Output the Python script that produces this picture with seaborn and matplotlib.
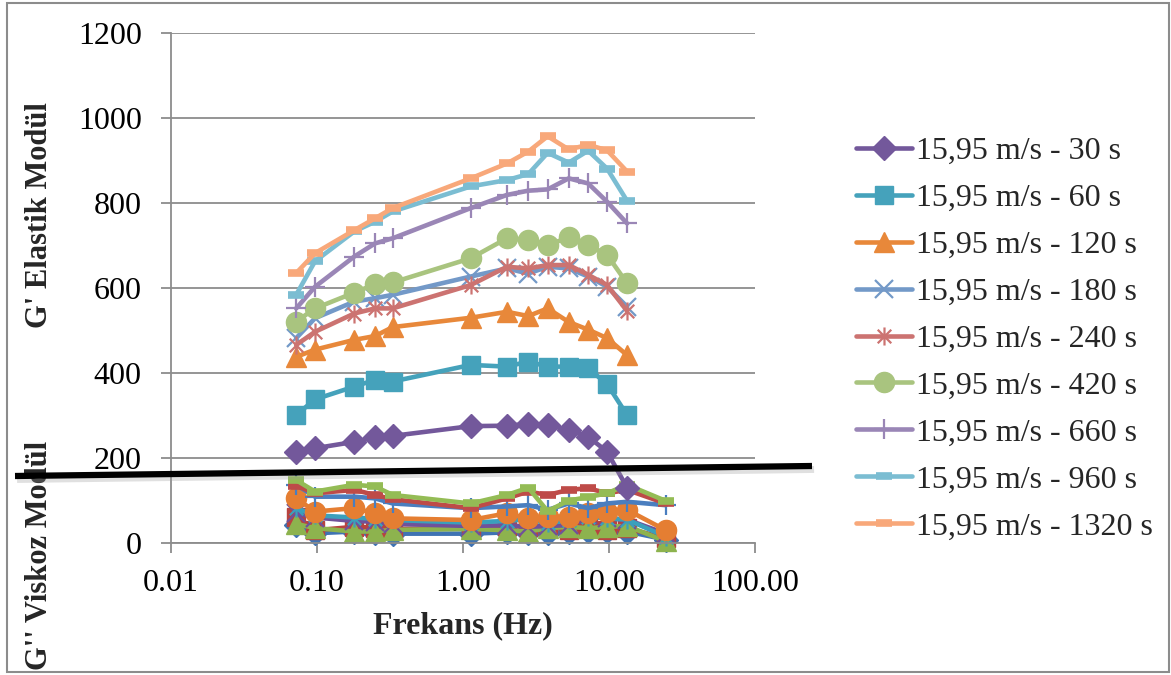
import numpy as np
import pandas as pd
import matplotlib
matplotlib.use("Agg")
import matplotlib.pyplot as plt
import seaborn as sns
from matplotlib.path import Path
from matplotlib.lines import Line2D
from matplotlib.patches import Rectangle
import matplotlib.patheffects as pe

# Frequency sweep (Hz)
freq = [0.072, 0.097, 0.18, 0.25, 0.33, 1.13, 2.0, 2.8, 3.8, 5.3, 7.2, 9.7, 13.3]
freq_visc = freq + [24.5]

# G' elastic modulus per treatment time
labels = ["15,95 m/s - 30 s", "15,95 m/s - 60 s", "15,95 m/s - 120 s",
          "15,95 m/s - 180 s", "15,95 m/s - 240 s", "15,95 m/s - 420 s",
          "15,95 m/s - 660 s", "15,95 m/s - 960 s", "15,95 m/s - 1320 s"]
g_30 = [215, 223, 238, 249, 252, 275, 276, 280, 278, 266, 250, 215, 130]
g_60 = [301, 338, 368, 384, 380, 419, 415, 427, 415, 415, 411, 374, 301]
g_120 = [438, 455, 478, 487, 508, 530, 544, 534, 552, 520, 502, 482, 442]
g_180 = [482, 529, 568, 576, 584, 627, 646, 634, 650, 646, 627, 603, 556]
g_240 = [466, 497, 540, 552, 552, 607, 650, 646, 654, 654, 631, 607, 546]
g_420 = [521, 552, 589, 609, 613, 670, 717, 714, 701, 719, 701, 678, 611]
g_660 = [552, 603, 674, 705, 717, 788, 819, 829, 832, 858, 846, 803, 752]
g_960 = [584, 663, 733, 756, 780, 839, 854, 868, 918, 895, 923, 881, 805]
g_1320 = [635, 682, 736, 764, 788, 858, 893, 921, 957, 926, 937, 924, 874]
elastic = [g_30, g_60, g_120, g_180, g_240, g_420, g_660, g_960, g_1320]

# G'' viscous modulus per treatment time
v_30 = [42, 23, 27, 23, 22, 22, 25, 23, 23, 25, 28, 28, 27, 8]
v_60 = [62, 30, 38, 36, 33, 35, 40, 38, 40, 31, 38, 31, 35, 11]
v_120 = [45, 35, 27, 27, 31, 33, 30, 27, 35, 38, 35, 38, 40, 4]
v_180 = [70, 60, 52, 50, 45, 40, 42, 38, 40, 42, 66, 58, 55, 22]
v_240 = [82, 65, 60, 57, 54, 48, 52, 56, 46, 54, 62, 58, 55, 15]
v_420 = [105, 74, 82, 70, 58, 54, 70, 58, 62, 62, 70, 74, 78, 30]
v_660 = [137, 109, 109, 105, 93, 82, 86, 89, 78, 93, 82, 93, 97, 89]
v_960 = [135, 117, 125, 113, 103, 82, 105, 121, 113, 125, 129, 117, 125, 93]
v_1320 = [148, 121, 137, 133, 113, 93, 113, 130, 75, 100, 108, 117, 137, 99]
viscous = [v_30, v_60, v_120, v_180, v_240, v_420, v_660, v_960, v_1320]

xticks = [0.01, 0.1, 1, 10, 100]
xticklabels = ["0.01", "0.10", "1.00", "10.00", "100.00"]
yticks = [0, 200, 400, 600, 800, 1000, 1200]

sns.set_theme(style="white")
plt.rcParams["font.family"] = ["Liberation Serif", "DejaVu Serif"]

# asterisk-style star: vertical bar crossed by an X
star = Path([(0, -1), (0, 1), (-0.75, -0.75), (0.75, 0.75), (-0.75, 0.75), (0.75, -0.75)],
            [Path.MOVETO, Path.LINETO] * 3)

elastic_colors = ["#73589B", "#45A2BB", "#E8883A", "#7399C8", "#CC7371",
                  "#A9C47F", "#9A86B6", "#7BBDD2", "#F8A87A"]
viscous_colors = ["#3F73B3", "#B8433F", "#8DB34E", "#70519A", "#3BA0BC",
                  "#E57E32", "#4A7EBF", "#BE4B48", "#94BC55"]
markers = ["D", "s", "^", "x", star, "o", "+", "_", "_"]
msizes = [12, 13.5, 14.5, 13, 13, 14.5, 15, 12, 12]
mews = [1, 1, 1, 1.6, 1.6, 1, 1.6, 5.5, 5.5]
filled = [True, True, True, False, False, True, False, False, False]

fig = plt.figure(figsize=(11.71, 6.75), dpi=100)
ax = fig.add_axes([171 / 1171, 132 / 675, 584 / 1171, 510 / 675])

def draw(xs, ys, color, i, label=None):
    kw = dict(marker=markers[i], markersize=msizes[i], markeredgewidth=mews[i],
              markeredgecolor=color, markerfacecolor=color if filled[i] else "none")
    sns.lineplot(x=xs, y=ys, color=color, linewidth=3.3, sort=False,
                 estimator=None, ax=ax, label=label, clip_on=False, **kw)

for i, vals in enumerate(viscous):
    draw(freq_visc, vals, viscous_colors[i], i)

handles = []
for i, vals in enumerate(elastic):
    draw(freq, vals, elastic_colors[i], i)
    handles.append(ax.lines[-1])

if ax.get_legend() is not None:
    ax.get_legend().remove()

ax.set_xscale("log")
ax.set_xlim(0.01, 100)
ax.set_ylim(0, 1200)
ax.set_xticks(xticks)
ax.set_xticklabels(xticklabels)
ax.xaxis.set_minor_locator(matplotlib.ticker.NullLocator())
ax.set_yticks(yticks)
ax.set_yticklabels([str(v) for v in yticks])

ax.grid(axis="y", color="#8C8C8C", linewidth=1.3)
ax.grid(axis="x", visible=False)
ax.set_axisbelow(True)
for side in ["top", "right"]:
    ax.spines[side].set_visible(False)
for side in ["left", "bottom"]:
    ax.spines[side].set_color("#8C8C8C")
    ax.spines[side].set_linewidth(1.3)
ax.tick_params(axis="both", which="major", direction="out", length=7, width=1.3,
               color="#8C8C8C", labelsize=23, labelcolor="black")
ax.tick_params(axis="x", pad=12, bottom=True)
ax.tick_params(axis="y", pad=14, left=True)
ax.set_xlabel("")
ax.set_ylabel("")

fig.text(463 / 1171, 1 - 626 / 675, "Frekans (Hz)", ha="center", va="center",
         fontsize=23, fontweight="bold")
fig.text(40 / 1171, 1 - 215 / 675, "G' Elastik Modül", ha="center", va="center",
         rotation=90, fontsize=22, fontweight="bold")
fig.text(40 / 1171, 1 - 555 / 675, "G'' Viskoz Modül", ha="center", va="center",
         rotation=90, fontsize=22, fontweight="bold")

leg = fig.legend(handles, labels, loc="center left",
                 bbox_to_anchor=(843 / 1171, 1 - 339 / 675), frameon=False,
                 fontsize=23, handlelength=1.75, handletextpad=0.15,
                 labelspacing=0.55, borderaxespad=0)

# divider between the elastic and viscous regions
sep = Line2D([15 / 1171, 812 / 1171], [1 - 476 / 675, 1 - 466 / 675],
             transform=fig.transFigure, color="black", linewidth=4.5,
             solid_capstyle="butt", zorder=20,
             path_effects=[pe.SimpleLineShadow(offset=(1.5, -2.5), shadow_color="#999999",
                                               alpha=0.3, linewidth=5),
                           pe.Normal()])
fig.add_artist(sep)

# chart frame
fig.add_artist(Rectangle((7 / 1171, 3 / 675), 1162 / 1171, 669 / 675,
                         transform=fig.transFigure, fill=False,
                         edgecolor="#8C8C8C", linewidth=1.5))

fig.savefig("out.png", dpi=100)
